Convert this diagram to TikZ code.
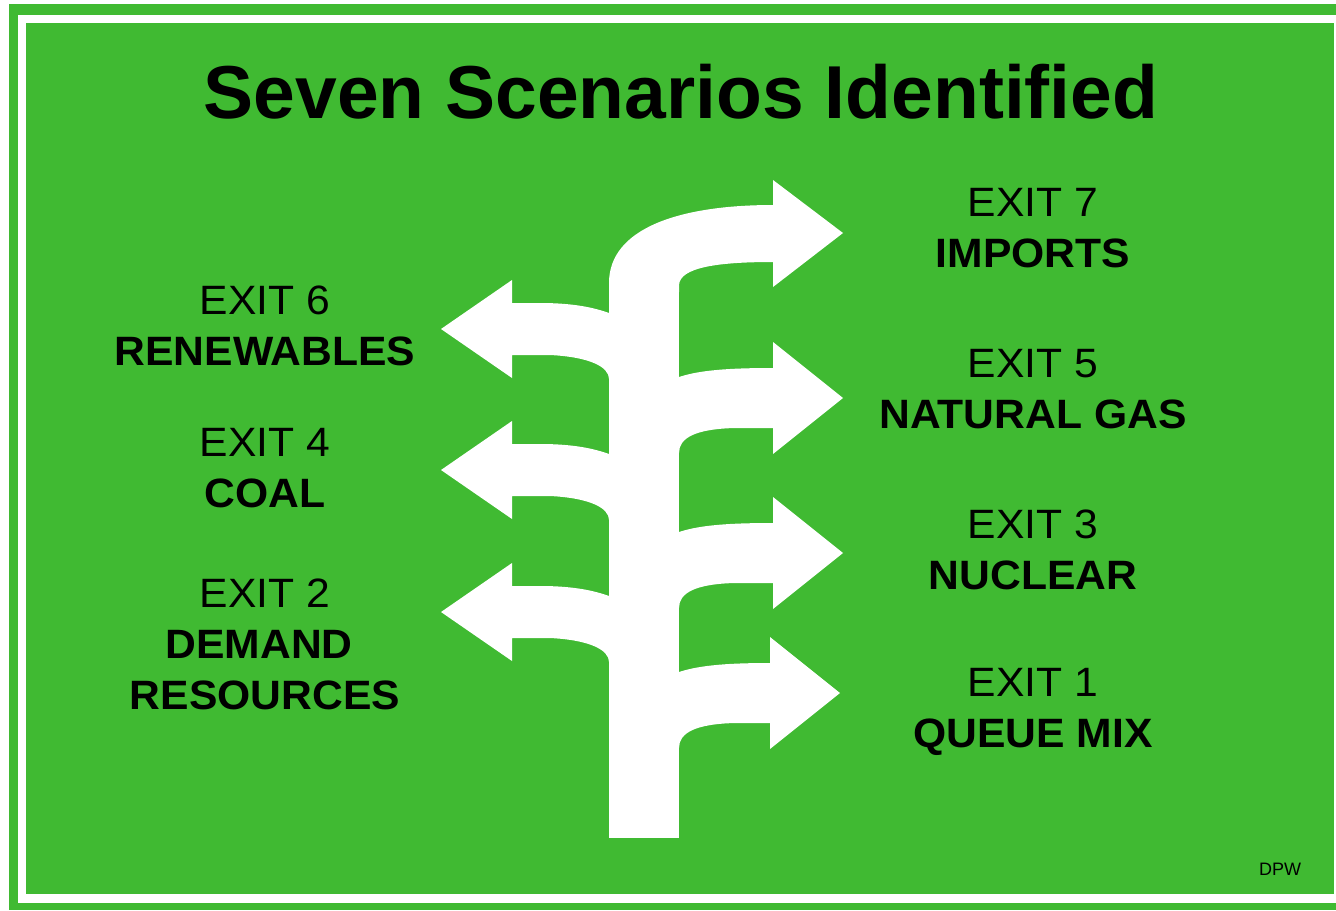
\documentclass[tikz,border=0pt]{standalone}
\usepackage{fontspec}
\setmainfont{Liberation Sans}
\newfontfamily\exitfont{Liberation Sans}[FakeStretch=1.04]
\definecolor{signgreen}{RGB}{64,186,50}
\tikzstyle{board} = [fill=signgreen]
\tikzstyle{road} = [fill=white]
\tikzstyle{title} = [anchor=base, inner sep=0pt, font=\fontsize{37.5}{40}\selectfont\bfseries]
\tikzstyle{exitlabel} = [anchor=north, inner sep=0pt, align=center,
    font=\exitfont\fontsize{20.5}{25.5}\selectfont]

% branch to the right: #1 = height of tip, #2 = back of head, #3 = tip
\newcommand{\exitright}[3]{%
    \fill[road] (679,#1-21) .. controls (700,#1-28) and (730,#1-30) .. (#2,#1-30)
        -- (#2,#1-56) -- (#3,#1) -- (#2,#1+56) -- (#2,#1+30) -- (735,#1+30)
        .. controls (695,#1+31) and (679,#1+40) .. (679,#1+55)
        -- (660,#1+55) -- (660,#1-21) -- cycle;}
% branch to the left: #1 = height of tip
\newcommand{\exitleft}[1]{%
    \fill[road] (609,#1-16) .. controls (595,#1-21) and (575,#1-26) .. (540,#1-26)
        -- (512,#1-26) -- (512,#1-49) -- (441,#1) -- (512,#1+49) -- (512,#1+26)
        -- (550,#1+26) .. controls (590,#1+28) and (609,#1+38) .. (609,#1+50)
        -- (625,#1+50) -- (625,#1-16) -- cycle;}

\begin{document}
\begin{tikzpicture}[x=0.5pt, y=-0.5pt]
    \useasboundingbox (0,0) rectangle (1336,910);
    % sign board with white frame
    \fill[white] (0,0) rectangle (1336,910);
    \fill[board] (9,4) rectangle (1336,910);
    \fill[white] (18,15) rectangle (1336,903);
    \fill[board] (26,23) rectangle (1334,894);

    \node[title] (title) at (681,118) {Seven Scenarios Identified};

    % trunk and the exit at the top
    \fill[road] (609,838) rectangle (679,285);
    \fill[road] (609,292) -- (609,283) .. controls (609,228) and (680,205) .. (773,205)
        -- (773,180) -- (843,233) -- (773,287) -- (773,262)
        .. controls (715,262) and (680,268) .. (679,285) -- (679,292) -- cycle;
    % exits off the trunk
    \exitleft{329}
    \exitleft{470}
    \exitleft{612}
    \exitright{398}{773}{843}
    \exitright{553}{773}{843}
    \exitright{693}{770}{840}

    % Labels
    \node[exitlabel] (exit7) at (1033,188) {EXIT 7\\\textbf{IMPORTS}};
    \node[exitlabel] (exit6) at (265,285) {EXIT 6\\\textbf{RENEWABLES}};
    \node[exitlabel] (exit5) at (1033,349) {EXIT 5\\\textbf{NATURAL GAS}};
    \node[exitlabel] (exit4) at (265,428) {EXIT 4\\\textbf{COAL}};
    \node[exitlabel] (exit3) at (1033,509) {EXIT 3\\\textbf{NUCLEAR}};
    \node[exitlabel] (exit2) at (265,578)
        {EXIT 2\\\textbf{DEMAND\phantom{I}}\\\textbf{RESOURCES}};
    \node[exitlabel] (exit1) at (1033,668) {EXIT 1\\\textbf{QUEUE MIX}};
    \node[anchor=base, inner sep=0pt, font=\fontsize{9}{10}\selectfont] (dpw)
        at (1280,875) {DPW};
\end{tikzpicture}
\end{document}
